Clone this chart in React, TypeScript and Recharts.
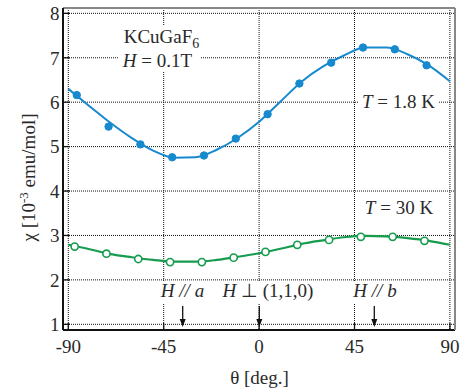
import { ComposedChart, Line, XAxis, YAxis, CartesianGrid } from "recharts";

// measured points, T = 1.8 K
const angles18K = [-86, -71, -56, -41, -26, -11, 4, 19, 34, 49, 64, 79];
const chi18K = [6.16, 5.45, 5.05, 4.76, 4.8, 5.18, 5.73, 6.42, 6.89, 7.23, 7.19, 6.83];

// measured points, T = 30 K
const angles30K = [-87, -72, -57, -42, -27, -12, 3, 18, 33, 48, 63, 78];
const chi30K = [2.75, 2.59, 2.47, 2.4, 2.4, 2.5, 2.63, 2.79, 2.9, 2.97, 2.97, 2.88];

// fit curves
const fitAngles = [-90, -80, -70, -60, -50, -40, -30, -20, -10, 0, 10, 20, 30, 40, 50, 60, 70, 80, 90];
const fit18K = [6.3, 5.91, 5.53, 5.19, 4.91, 4.75, 4.76, 4.93, 5.2, 5.56, 6.01, 6.46, 6.8, 7.05, 7.23, 7.23, 7.08, 6.83, 6.47];
const fit30K = [2.79, 2.69, 2.58, 2.51, 2.45, 2.41, 2.41, 2.45, 2.52, 2.6, 2.7, 2.81, 2.89, 2.96, 2.99, 2.98, 2.94, 2.88, 2.79];

const xTicks = [-90, -45, 0, 45, 90];
const yTicks = [1, 2, 3, 4, 5, 6, 7, 8];

const FONT = "'Liberation Serif', 'Times New Roman', serif";
const BLUE = "#1689cf";
const GREEN = "#169b4f";
const TEXT = "#2a2a2a";

const toPoints = (xs: number[], ys: number[]) => xs.map((x, i) => ({ x, y: ys[i] }));

const pts18K = toPoints(angles18K, chi18K);
const pts30K = toPoints(angles30K, chi30K);
const curve18K = toPoints(fitAngles, fit18K);
const curve30K = toPoints(fitAngles, fit30K);

const X_DOMAIN: [number, number] = [-92.5, 92.4];
const Y_DOMAIN: [number, number] = [0.872, 8.12];

const Arrow = ({ x }: { x: number }) => (
  <g>
    <line x1={x} y1={306} x2={x} y2={320} stroke="#111" strokeWidth={1.3} />
    <polygon points={`${x - 3},${319} ${x + 3},${319} ${x},${327}`} fill="#111" />
  </g>
);

export default function App() {
  const tickStyle = { fill: TEXT, fontSize: 19, fontFamily: FONT };
  return (
    <div style={{ position: "absolute", left: 0, top: 0, background: "#fff" }}>
      <ComposedChart
        width={468}
        height={390}
        margin={{ top: 7, right: 12, bottom: 0, left: 0 }}
      >
        <CartesianGrid stroke="#111" strokeDasharray="1 1" strokeWidth={1} />
        <XAxis
          dataKey="x"
          type="number"
          domain={X_DOMAIN}
          ticks={xTicks}
          allowDataOverflow
          interval={0}
          height={60}
          tickSize={-7}
          tickMargin={17}
          tick={tickStyle}
          tickLine={{ stroke: "#111", strokeWidth: 1.3 }}
          axisLine={{ stroke: "#111", strokeWidth: 2 }}
        />
        <XAxis
          xAxisId="top"
          orientation="top"
          type="number"
          domain={X_DOMAIN}
          ticks={xTicks}
          allowDataOverflow
          interval={0}
          height={1}
          tickSize={-7}
          tick={false}
          tickLine={{ stroke: "#111", strokeWidth: 1.3 }}
          axisLine={{ stroke: "#888", strokeWidth: 2 }}
        />
        <YAxis
          type="number"
          domain={Y_DOMAIN}
          ticks={yTicks}
          allowDataOverflow
          interval={0}
          width={63}
          tickSize={-7}
          tickMargin={10.5}
          tick={tickStyle}
          tickLine={{ stroke: "#111", strokeWidth: 1.3 }}
          axisLine={{ stroke: "#111", strokeWidth: 2 }}
        />
        <YAxis
          yAxisId="right"
          orientation="right"
          type="number"
          domain={Y_DOMAIN}
          ticks={yTicks}
          allowDataOverflow
          interval={0}
          width={1}
          tickSize={-7}
          tick={false}
          tickLine={{ stroke: "#111", strokeWidth: 1.3 }}
          axisLine={{ stroke: "#888", strokeWidth: 2 }}
        />

        {/* white boxes behind the annotations */}
        <rect x={119} y={25} width={82} height={47} fill="#fff" />
        <rect x={358} y={92} width={80} height={21} fill="#fff" />
        <rect x={361} y={198} width={76} height={21} fill="#fff" />
        <rect x={157} y={282} width={52} height={22} fill="#fff" />
        <rect x={219} y={282} width={98} height={22} fill="#fff" />
        <rect x={350} y={282} width={51} height={22} fill="#fff" />

        <Line
          data={curve18K}
          dataKey="y"
          type="monotone"
          stroke={BLUE}
          strokeWidth={2}
          dot={false}
          activeDot={false}
          isAnimationActive={false}
        />
        <Line
          data={curve30K}
          dataKey="y"
          type="monotone"
          stroke={GREEN}
          strokeWidth={2.2}
          dot={false}
          activeDot={false}
          isAnimationActive={false}
        />
        <Line
          data={pts18K}
          dataKey="y"
          stroke="none"
          dot={{ r: 3.7, fill: BLUE, stroke: BLUE, strokeWidth: 1 }}
          activeDot={false}
          isAnimationActive={false}
        />
        <Line
          data={pts30K}
          dataKey="y"
          stroke="none"
          dot={{ r: 3.6, fill: "#fff", stroke: GREEN, strokeWidth: 1.6 }}
          activeDot={false}
          isAnimationActive={false}
        />

        <g fontFamily={FONT} fontSize={19} fill={TEXT}>
          <text x={161.5} y={43} textAnchor="middle">
            KCuGaF<tspan fontSize={14} dy={5}>6</tspan>
          </text>
          <text x={157.5} y={67} textAnchor="middle">
            <tspan fontStyle="italic">H</tspan> = 0.1T
          </text>
          <text x={398.5} y={108} textAnchor="middle">
            <tspan fontStyle="italic">T</tspan> = 1.8 K
          </text>
          <text x={399} y={214} textAnchor="middle">
            <tspan fontStyle="italic">T</tspan> = 30 K
          </text>
          <text x={182.5} y={297} textAnchor="middle" fontStyle="italic">
            H // a
          </text>
          <text x={268} y={297} textAnchor="middle">
            <tspan fontStyle="italic">H</tspan> ⊥ (1,1,0)
          </text>
          <text x={375} y={297} textAnchor="middle" fontStyle="italic">
            H // b
          </text>
          <text x={259.5} y={384} textAnchor="middle">
            θ [deg.]
          </text>
          <text x={0} y={0} textAnchor="middle" transform="translate(35,177.5) rotate(-90)">
            χ [10<tspan fontSize={13} dy={-7}>-3</tspan>
            <tspan dy={7}> emu/mol]</tspan>
          </text>
        </g>

        <Arrow x={182.7} />
        <Arrow x={259.3} />
        <Arrow x={374.3} />
      </ComposedChart>
    </div>
  );
}
